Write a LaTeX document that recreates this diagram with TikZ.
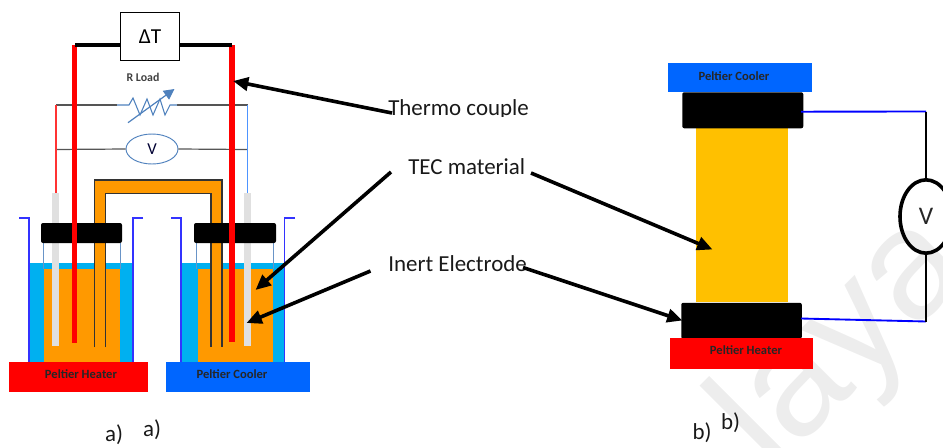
\documentclass[tikz,border=0pt]{standalone}
\usepackage{fontspec}
\setmainfont{Carlito}
\newfontfamily\wmfont{Liberation Sans}
\usetikzlibrary{shapes.geometric,arrows.meta}
\definecolor{liq}{HTML}{00B0F0}
\definecolor{tec}{HTML}{FF9900}
\definecolor{tecy}{HTML}{FFC000}
\definecolor{coolc}{HTML}{0066FF}
\definecolor{beak}{HTML}{3333FF}
\definecolor{resb}{HTML}{4F81BD}
\definecolor{wgray}{HTML}{555555}
\definecolor{rwire}{HTML}{4D94FF}
\definecolor{vwire}{HTML}{0000FF}
\tikzset{
  x=0.75pt,y=-0.75pt,
  lab/.style={inner sep=0pt,font=\fontsize{17.2}{19}\selectfont,text=black!90},
  small/.style={inner sep=0pt,font=\fontsize{9.4}{11}\selectfont\bfseries,text=black!85},
  pelt/.style={draw=none,inner sep=0pt,anchor=north west},
  callout/.style={line width=2.7pt,-{Triangle[length=11.5pt,width=10pt]},black},
  capblk/.style={fill=black,rounded corners=1.5pt,draw=none},
  tc/.style={line width=3.8pt,red},
  tclead/.style={line width=3.4pt,black},
  wire/.style={line width=0.9pt,wgray},
  beaker/.style={line width=0.9pt,beak},
  elec/.style={fill=black!12,draw=none},
  stem/.style={line width=0.8pt,black!80},
  fine/.style={line width=0.8pt,resb!85},
}
\begin{document}
\begin{tikzpicture}
\useasboundingbox (0,0) rectangle (943,447);
% watermark
\begin{scope}
\clip (0,0) rectangle (943,447);
\node[rotate=45,font=\wmfont\fontsize{117}{117}\selectfont,text=black!7,inner sep=0pt,anchor=base west] (wm) at (772,474) {laya};
\end{scope}
% --- left cell
\fill[liq] (29,263) rectangle (133,362);
\fill[liq] (181,263) rectangle (284.5,362);
\fill[tec] (44,268.5) rectangle (120,362);
\fill[tec] (197.5,268.5) rectangle (273,362);
\draw[fine] (43.5,243) -- (43.5,268.5) (120.5,243) -- (120.5,268.5);
\draw[fine] (196.5,243) -- (196.5,268.5) (273.5,243) -- (273.5,268.5);
% bridge
\fill[tec] (94,179.5) -- (222.5,179.5) -- (222.5,347) -- (211,347) -- (211,193.5) -- (105.5,193.5) -- (105.5,347) -- (94,347) -- cycle;
\draw[stem] (94.5,347) -- (94.5,180) -- (222,180) -- (222,347);
\draw[stem] (105.5,347) -- (105.5,193.5) -- (211,193.5) -- (211,347);
% beakers
\draw[beaker] (19,218) -- (29,218) -- (29,362);
\draw[beaker] (143,218) -- (133,218) -- (133,362);
\draw[beaker] (171,218) -- (181,218) -- (181,362);
\draw[beaker] (295,218) -- (284.5,218) -- (284.5,362);
% electrodes
\fill[elec] (52,193) rectangle (58.5,346);
\fill[elec] (244,193) rectangle (250.5,346);
% caps
\fill[capblk] (41,223) rectangle (122,243);
\fill[capblk] (194,223) rectangle (276,243);
% Peltier plates
\node[pelt,fill=red,minimum width=104.25pt,minimum height=22.5pt] (hl) at (9,362) {};
\node[pelt,fill=coolc,minimum width=108pt,minimum height=22.5pt] (cl) at (165.5,362) {};
\node[small] at (81,374.5) {Peltier Heater};
\node[small] at (232,374.5) {Peltier Cooler};
% wires
\coordinate (rl) at (56,105);
\coordinate (rr) at (247.5,105);
\coordinate (rs) at (117,105);
\coordinate (re) at (177,105);
\node[draw=resb,fill=white,line width=0.7pt,ellipse,minimum width=39pt,minimum height=22.5pt,inner sep=0pt,font=\fontsize{12.5}{14}\selectfont,text=black!80!blue] (vm) at (152,149) {V};
\coordinate (vl) at (56,149.5);
\coordinate (vr) at (247.5,149.5);
\coordinate (el) at (56,193);
\coordinate (er) at (247.5,193);
\draw[wire] (rl) -- (rs);
\draw[wire] (re) -- (rr);
\draw[wire] (vl) -- (vm.west);
\draw[wire] (vm.east) -- (vr);
\draw[line width=0.8pt,red!80] (rl) -- (el);
\draw[line width=1.2pt,rwire] (rr) -- (er);
\draw[line width=0.8pt,resb] (rs) -- (129,105) -- (133,98) -- (140,115) -- (147,99) -- (153,115) -- (160,99) -- (165,115) -- (170,105) -- (re);
\draw[line width=0.9pt,resb,-{Triangle[length=8pt,width=8pt]}] (128,122.7) -- (174.5,89);
\node[inner sep=0pt,font=\fontsize{8.9}{10}\selectfont\bfseries,text=black!75] at (143,77) {R Load};
% thermocouples
\node[draw=black,fill=white,line width=0.9pt,minimum width=44.25pt,minimum height=36pt,inner sep=0pt,anchor=north west,font=\fontsize{16}{18}\selectfont] (dt) at (120,12) {ΔT};
\coordinate (tl) at (74.5,45);
\coordinate (tr) at (232,45);
\coordinate (bl) at (74.5,343);
\coordinate (br) at (232,342);
\draw[tc] (tl) -- (bl);
\draw[tc] (tr) -- (br);
\draw[tclead] (dt.west |- tl) -- (tl);
\draw[tclead] (dt.east |- tr) -- (tr);
% --- right cell
\fill[tecy] (696,128) rectangle (788,302);
\node[pelt,fill=coolc,minimum width=107.6pt,minimum height=21.75pt] (cr) at (668,63) {};
\node[small] at (734,76) {Peltier Cooler};
\node[capblk,minimum width=90.75pt,minimum height=27pt,inner sep=0pt,anchor=north west] (kt) at (682,92) {};
\node[capblk,minimum width=90.4pt,minimum height=27pt,inner sep=0pt,anchor=north west] (kb) at (681,302.5) {};
\node[pelt,fill=red,minimum width=107.25pt,minimum height=22.9pt] (hr) at (670,338) {};
\node[small] at (746,350) {Peltier Heater};
\coordinate (wt) at (926,111.5);
\coordinate (wb) at (926,321.5);
\coordinate (kts) at (801,111.7);
\coordinate (kbs) at (801,318.5);
\node[draw=black,line width=2.7pt,ellipse,minimum width=39pt,minimum height=55pt,inner sep=0pt,font=\fontsize{19}{21}\selectfont,text=black!85] (vr2) at (926,216.5) {V};
\draw[line width=1.4pt,vwire] (kts) -- (wt);
\draw[line width=1.4pt,vwire] (kbs) -- (wb);
\draw[line width=0.9pt,black] (wt) -- (vr2.north);
\draw[line width=0.9pt,black] (vr2.south) -- (wb);
% labels
\begin{scope}
\clip (380,90) rectangle (540,116.5);
\node[lab,anchor=base west] (thl) at (388,115) {Thermo couple};
\end{scope}
\node[lab,anchor=base west] (tel) at (408,174.3) {TEC material};
\node[lab,anchor=base west] (inl) at (388,271.7) {Inert Electrode};
\node[lab] (a1) at (114,435) {a)};
\node[lab] (a2) at (152,430) {a)};
\node[lab] (b1) at (702,433) {b)};
\node[lab] (b2) at (730.5,423) {b)};
% callouts
\coordinate (c1s) at (392,113);
\coordinate (c1e) at (233,81);
\coordinate (c2s) at (391,172);
\coordinate (c2e) at (255.5,290);
\coordinate (c3s) at (370.5,271);
\coordinate (c3e) at (246.5,323);
\coordinate (c4s) at (531,173);
\coordinate (c4e) at (712.5,249.5);
\coordinate (c5s) at (523,267.5);
\coordinate (c5e) at (682.5,320.5);
\draw[callout] (c1s) -- (c1e);
\draw[callout] (c2s) -- (c2e);
\draw[callout] (c3s) -- (c3e);
\draw[callout] (c4s) -- (c4e);
\draw[callout] (c5s) -- (c5e);
\end{tikzpicture}
\end{document}
